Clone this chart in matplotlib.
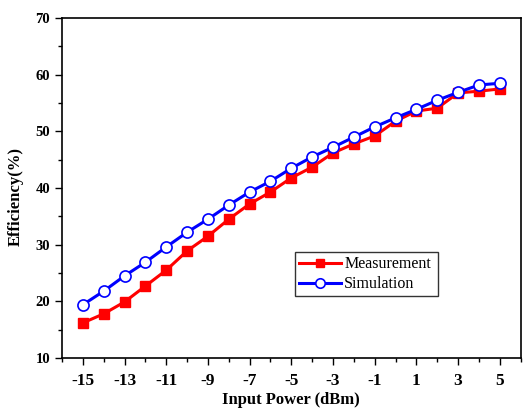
import matplotlib
matplotlib.use("Agg")
import matplotlib.pyplot as plt
from matplotlib.ticker import MultipleLocator

input_power = [-15, -14, -13, -12, -11, -10, -9, -8, -7, -6, -5, -4, -3, -2, -1, 0, 1, 2, 3, 4, 5]
measurement = [16.2, 17.8, 19.9, 22.7, 25.5, 28.9, 31.5, 34.5, 37.2, 39.3, 41.8, 43.7, 46.2, 47.8, 49.2,
               51.8, 53.6, 54.1, 56.8, 57.1, 57.5]
simulation = [19.4, 21.8, 24.5, 26.9, 29.6, 32.2, 34.5, 37.0, 39.3, 41.2, 43.5, 45.5, 47.2, 49.0, 50.8,
              52.4, 53.9, 55.5, 56.9, 58.2, 58.5]
xticks = [-15, -13, -11, -9, -7, -5, -3, -1, 1, 3, 5]
yticks = [10, 20, 30, 40, 50, 60, 70]

plt.rcParams['font.family'] = ['Liberation Serif', 'DejaVu Serif']
plt.rcParams['axes.unicode_minus'] = False

fig = plt.figure(figsize=(5.23, 4.12), dpi=100)
ax = fig.add_axes([0.1185, 0.131, 0.877, 0.825])

ax.plot(input_power, measurement, color='#ff0000', lw=2.2, marker='s', ms=7,
        mfc='#ff0000', mec='#ff0000', label='Measurement')
ax.plot(input_power, simulation, color='#0000ff', lw=2.2, marker='o', ms=8,
        mfc='white', mec='#0000ff', mew=1.2, label='Simulation')

ax.set_xlim(-16, 6)
ax.set_ylim(10, 70)
ax.set_xticks(xticks)
ax.set_yticks(yticks)
ax.xaxis.set_minor_locator(MultipleLocator(1))
ax.yaxis.set_minor_locator(MultipleLocator(5))
ax.tick_params(which='both', direction='out', top=False, right=False)
ax.tick_params(which='major', length=5, width=1)
ax.tick_params(which='minor', length=3, width=1)
for lab in ax.get_xticklabels() + ax.get_yticklabels():
    lab.set_fontweight('bold')
ax.tick_params(axis='x', labelsize=12.5, pad=6)
ax.tick_params(axis='y', labelsize=10.5)
for s in ax.spines.values():
    s.set_linewidth(1.2)

ax.set_xlabel('Input Power (dBm)', fontsize=12, fontweight='bold', labelpad=2)
ax.set_ylabel('Efficiency(%)', fontsize=12, fontweight='bold')
ax.yaxis.set_label_coords(-0.083, 0.476)

leg = ax.legend(loc='lower left', bbox_to_anchor=(0.509, 0.182, 0.311, 0.135), mode='expand',
                fontsize=11.5, frameon=True, fancybox=False, edgecolor='black',
                handlelength=2.6, borderpad=0.25, labelspacing=0.25, handletextpad=0.2,
                borderaxespad=0, markerscale=0.85)
leg.get_frame().set_linewidth(1.0)

fig.savefig('out.png', dpi=100)
